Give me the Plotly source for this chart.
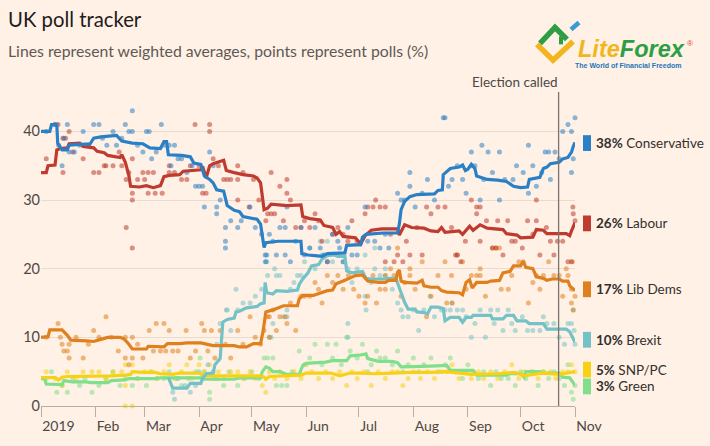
import plotly.graph_objects as go
import pandas as pd

# ---------------- DATA (days since 2019-01-01, value %) ----------------
con_line = [(0,40),(5,40),(6,41),(9,41),(9.5,38.3),(12,37.3),(15,37.3),(16,38),(28,38.2),(30,39),(34,39.2),(40,39.4),(43,39.4),(46,38.6),(48,38.5),(52,38.3),(58,38.2),(62,37.6),(68,37.5),(70,38.5),(71.5,38.5),(72.5,36.6),(80,36.5),(85,36.3),(87,35.4),(91,35.2),(93,33.5),(96,33),(98,32.5),(100,31.5),(104,31.3),(106,29.2),(110,28.5),(113,28.3),(115,27.6),(120,27.4),(123,27.2),(125,26.5),(126,25),(127,23.1),(128,23.8),(135,24),(140,24),(148,24),(148.5,22.2),(152,22.0),(156,21.9),(160,21.8),(163,22.2),(168,22.3),(173,22.3),(174,23.4),(182,23.5),(183,24.6),(185,25.0),(195,25.2),(203,25.2),(204,26.5),(205,28.6),(207,29.8),(210,30.5),(214,30.8),(224,30.9),(226,31.4),(228.5,31.5),(229,33.7),(231,34.2),(233,34.6),(238,34.8),(240,35.1),(241.6,34.3),(243,34.5),(245,35.2),(247,34.6),(248,33.5),(251,33.3),(254,33.0),(260,32.9),(265,32.7),(269,32.0),(273,31.8),(277,31.9),(278,33.0),(284,33.3),(286,34.6),(288,34.8),(290,35.3),(295,35.5),(297,36.0),(300,36.2),(302,37.0),(303,37.8),(304,38.4)]

lab_line = [(0,34),(3,34),(4,35),(8,35.1),(9,37.3),(11,37.5),(15,37.6),(16,38.2),(22,38.3),(24,37.8),(30,37.6),(32,37.1),(36,36.9),(38,36.5),(45,36.2),(46,36.6),(48,35.5),(50,33.6),(51,32),(56,31.9),(60,32.1),(64,31.8),(68,32.1),(70,33.4),(73,33.6),(79,33.7),(81,34.2),(91,34.4),(92,34.9),(94,33.2),(96,35.0),(98,35.3),(104,35.8),(105.5,34.3),(110,34.0),(115,33.7),(121,33.5),(123,33.2),(125,32.5),(126,30),(127,28.6),(129,28.8),(131,29.4),(140,29.2),(148,29.3),(149,27.6),(153,27.3),(159,27.1),(161,26.3),(166,26.0),(168,25.0),(170,25.4),(172,24.7),(179,24.5),(182,23.6),(184.5,24.8),(188,25.6),(194,25.8),(203,25.8),(204,24.9),(207,26.4),(211,26.0),(218,25.9),(222,25.5),(226,25.4),(228,26.0),(230,25.3),(238,25.5),(240,25.0),(244,26.2),(246,25.6),(250,26.4),(254,25.9),(263,25.7),(265,25.1),(271,24.9),(273,24.5),(280,24.6),(282,25.7),(286,25.6),(288,25.1),(299,25.1),(301,24.8),(302,25.5),(304,26.7)]

ld_line = [(0,10),(4,10.1),(5,11.1),(12,11.1),(15,10.3),(17,9.6),(26,9.5),(30,9.4),(34,9.7),(38,10.0),(45,10.0),(47,9.8),(49,9.3),(52,8.3),(60,8.3),(61,8.7),(70,8.6),(72,9.1),(79,9.1),(83,9.2),(91,9.2),(94,9.0),(98,8.8),(110,8.8),(113,8.6),(117,8.6),(121,9.1),(125,9.1),(126.5,11),(128,13.7),(132,14.0),(138,14.6),(146,14.6),(147,15.6),(149,16.1),(155,16.1),(159,16.5),(163,16.8),(166,16.9),(168,17.8),(172,18.2),(175,18.5),(179,19.0),(183,19.1),(184,18.8),(186,18.2),(192,18.0),(196,18.0),(198,18.3),(202,18.3),(203,19.5),(204,19.8),(205,18.2),(207,18.0),(214,17.9),(217,18.3),(218,17.5),(222,17.3),(226,17.3),(228,16.8),(231,16.6),(238,16.5),(240,16.2),(242,18.0),(244,18.4),(245.5,17.2),(248,18.0),(254,18.0),(256,18.2),(261,18.3),(263,19.4),(267,19.6),(269,20.4),(273,20.4),(274.5,21.1),(276,20.2),(280,20.0),(282,18.8),(286,18.6),(288,18.3),(291,18.5),(295,18.5),(297,18.2),(300,18.2),(301,17.5),(303,17.0),(304,16.8)]

brx_line = [(72.5,4.15),(74,3.0),(75,2.6),(83,2.6),(85,3.3),(91,3.3),(92,4.0),(94,4.7),(98,4.8),(99,6.0),(102,6.9),(103.5,12.2),(106,12.6),(110,12.8),(111,13.7),(113,13.8),(117,14.3),(123,14.5),(125,14.9),(127,15.0),(127.6,18.0),(128.5,16.5),(132,16.3),(134,16.8),(140,16.7),(146,16.9),(147,17.7),(149,18.5),(151,19.1),(152,19.4),(154,20.4),(158,20.6),(160,21.4),(163,21.9),(167,22.0),(169,21.8),(173,21.8),(174,19.7),(177,19.4),(180,19.5),(183,19.6),(185,18.6),(188,18.5),(196,18.5),(198,18.6),(202,18.6),(203,17.9),(205,16.6),(207,15.1),(209,14.1),(213,14.1),(214,13.7),(218,13.6),(220,13.4),(222,14.4),(226,14.4),(229,14.2),(230,12.4),(233,12.9),(238,12.9),(240,12.2),(242,12.9),(245,12.9),(246,13.2),(256,13.2),(257,12.7),(263,12.7),(265,13.2),(269,13.2),(271,12.4),(276,12.4),(278,12.0),(286,12.0),(288,11.2),(299,11.2),(301,10.8),(303,9.8),(304,9.3)]

snp_line = [(0,4.15),(8,4.15),(10,3.8),(12,4.2),(15,4.3),(30,4.3),(40,4.4),(48,4.5),(51,4.6),(52,5.0),(58,4.9),(65,4.9),(68,4.7),(75,4.6),(79,4.8),(90,4.8),(93,4.4),(110,4.4),(125,4.4),(127,4.2),(128,3.9),(130,4.3),(148,4.5),(151,4.8),(165,4.8),(170,4.4),(176,4.8),(182,4.8),(190,4.7),(200,4.8),(210,4.9),(222,4.9),(230,5.0),(245,4.6),(260,4.7),(270,4.9),(275,4.4),(285,4.8),(295,4.6),(304,5.0)]

grn_line = [(0,4.0),(2,4.0),(3,3.2),(12,3.1),(13,3.7),(17,3.6),(18,3.5),(26,3.5),(28,3.4),(38,3.4),(40,3.7),(48,3.8),(50,4.0),(65,4.0),(68,4.1),(91,4.1),(93,3.9),(110,3.9),(113,4.1),(125,4.1),(126,5.0),(128,5.7),(130,5.5),(132,5.0),(136,5.0),(140,4.6),(147,4.6),(149,5.9),(151,6.2),(162,6.4),(166,6.6),(174,6.6),(176,7.3),(181,7.4),(185,7.6),(186,6.9),(192,6.5),(200,6.5),(203,6.3),(205,5.7),(218,5.7),(222,5.8),(231,5.9),(233,5.2),(246,5.2),(248,4.5),(265,4.5),(267,4.7),(273,4.7),(275,4.2),(276,5.0),(284,5.0),(286,4.8),(295,4.8),(297,4.2),(301,4.1),(304,3.0)]

con_polls = [(3,40),(8,41),(10,38),(12,35),(13,39),(15,41),(16,37),(19,37),(22,38),(24,40),(27,38),(30,41),(33,41),(35,39),(37.5,38),(41,40),(43,38),(46,39),(48,41),(50,40),(52,43),(52,40),(55,38),(58,37),(60,40),(61.6,40),(63,36),(65.6,37),(68.5,41),(70,38),(73,38),(74,35),(76,38),(78,36),(80,36),(83,34),(86,35),(88,32),(90,32),(92,32),(93,29),(96,37),(98,35),(100,29),(100,28),(102,30),(105,26),(105,24),(105,23),(108,27),(112,26),(114,27),(119,29),(122,26),(125.6,25),(127.6,22),(128.5,22),(128,21),(130,25),(132,24),(134,22),(136,26),(139,22),(139,26),(140,29),(142,21),(145,24),(148,26),(150,22),(153,23),(156,26),(159,23),(161,22),(163,21),(166,25),(169,24),(170,23),(172,21),(174.7,26),(177,22),(180,22),(184.5,29),(186,24),(190,24),(193,23),(196,25),(198,23),(203,31),(205,30),(207,30),(210,34),(210,32),(213,29),(217,31),(220,33),(224,30),(229,42),(230,42),(232,32),(234,33),(237,35),(240,33),(242,31),(245,37),(245,35),(247,35),(250,30),(251,38),(252,33),(254.5,37),(257,34),(261,37),(261,30),(264,33),(268.7,33),(270.7,35),(274.5,34),(277.5,38),(277.5,31),(280,35),(282,32),(285,34),(287,37),(289,37),(290,33),(292.6,37),(295,36),(297,40),(300,41),(302,34),(303,36),(304,42),(302,40)]

lab_polls = [(3,36),(8,41),(9.7,41),(12.5,39),(14,39),(16,40),(12.5,34),(18,37),(24,36),(27,38),(30,34),(33,34),(36,35),(37,35),(41,35),(44.5,37),(46,35),(48.5,33),(48.5,26),(50,34),(52,23),(52,30),(52,31),(52,36),(55,33),(58,34),(61,34),(64,34),(59,33),(61,31),(65,31),(69,31),(73,35),(73,34),(76,34),(80,33),(83,33),(85,35),(87.7,41),(90,35),(92,31),(94,31),(96,41),(96,40),(98,36),(101,35),(104,33),(106,33),(108,33),(112,35),(112,33),(112,30),(115,34),(118.5,29),(121,33),(124,30),(128,27),(129,28),(131,34),(131,28),(133,28),(136,32),(138,27),(140,33),(140,31),(142,30),(145,26),(148,26),(150,27),(153,26),(156,28),(158,27),(160,24),(163,21),(166,25),(169,26),(172,25),(174.7,24),(177,27),(180,24),(184.5,28),(186,29),(189,29),(190.5,30),(193,29),(196,29),(196,21),(199,25),(201,21),(203,22),(206,21),(208,24),(210,22),(214,26),(217,22),(219.5,29),(222,28),(226,29),(230,29),(233.7,26),(236,22),(237,22),(239,21),(241.6,24),(245,30),(248,29),(248,28),(250,29),(250,24),(253.6,27),(257,23),(259,23),(260,27),(263,22),(265.7,27),(268,24),(270,24),(274,23),(277,27),(280,25),(282,27),(282,30),(284,22),(287.7,26),(290,24),(292,22),(294,24),(297,24),(300,21),(302,21),(302.8,29),(304,27),(303,28)]

ld_polls = [(3,10),(9.7,12),(11,10),(12,9),(13,8),(15,8),(16,9),(16,7),(20,10),(24,7),(27,9),(30,11),(33,10),(37,13),(40,10),(44,8),(48,10),(48,7),(50,6),(52,10),(52,7),(55,9),(58,7),(61.6,11),(64,8),(65.6,12),(68,8),(70,12),(71,8),(73,11),(75,8),(78,8),(82.6,11),(85,7),(88,8),(91.5,12),(93,11),(95,8),(97,11),(99,7),(102,11),(105,9),(108,7),(112,11),(115,9),(119,13),(122,10),(125,9),(127,11),(129,13),(130,13),(130,10),(132,14),(134,11),(136,13),(139,13),(140,12),(142,15),(145,11),(148,16),(150,16),(153,16),(156,18),(158,17),(160,15),(163,19),(166,18),(169,19),(172,17),(175,19),(178,17),(181,16),(184.5,15),(186,16),(189,19),(191,15),(193,17),(196,19),(196,17),(199,20),(201,19),(203,23),(205,16),(207,18),(210,20),(210,19),(213,17),(217,21),(219.5,13),(222,16),(226,19),(230,21),(231,15),(233.7,19),(234,15),(237,22),(240,21),(242,17),(245,19),(248,19),(250,20),(250,19),(253,16),(257,23),(259,23),(261,23),(262,17),(266,17),(268,19),(272,21),(274.5,21),(277.5,15),(280,18),(282,19),(284,17),(286,19),(289,21),(292,19),(295,19),(297,16),(299,20),(300,19),(302,17),(302.5,21),(303,14),(304,16),(302,15)]

brx_polls = [(75,2),(76,1),(78,4),(82,3),(85,2),(88,3),(90,5),(92,4),(95,6),(98,5),(100,9),(102,12),(105.5,14),(106,14),(108,11),(111,17),(112,14),(115,15),(119,15),(122,16),(125.6,17),(127.6,21),(128.5,21),(129,19),(130,10),(131,10),(132,12),(133,20),(134,19),(136,19),(138,13),(140,14),(140,13),(142,17),(144,18),(146,19),(148,19),(150,21),(153,23),(156,20),(159,24),(160,22),(163,24),(166,21),(169,22),(172,21),(174.7,20),(174.7,12),(174.7,10),(177,18),(180,20),(184.5,22),(184.5,16),(185,14),(188,18),(190,23),(190,20),(193,19),(196,20),(196,19),(200,17),(203,15),(205,14),(206,13),(209,13),(212,14),(215,11),(218,14),(221.5,16),(224,13),(228,14),(230,14),(233,14),(234,15),(237,14),(240,14),(242,13),(245,10),(247,12),(250,14),(253,10),(256,14),(258,12),(260,14),(263,11),(266,14),(268,12),(270,11),(274,13),(277,11),(280,11),(284,11),(286,13),(288,12),(292,12),(295,10),(298,9),(300,12),(302,12),(303,14),(304,9),(303.5,11)]

snp_polls = [(3,5),(8,4),(12,3),(15,5),(20,4),(24,5),(29,5),(33,5),(37,4),(41,5),(46,5),(48,6),(48,3),(48,0),(52,6),(52,0),(55,4),(59,5),(62,5),(66,4),(70,5),(73,6),(76,4),(80,5),(83,6),(86,4),(90,6),(93,5),(96,6),(98,4),(101,5),(104,4),(108,5),(112,5),(115,4),(119,5),(122,4),(126,3),(128,2),(130,5),(133,4),(136,5),(140,4),(144,5),(148,4),(151,6),(154,5),(158,4),(162,5),(166,4),(170,5),(174,3),(177,5),(180,4),(184,5),(188,3),(192,5),(196,4),(200,5),(203,5),(206,3),(209,4),(212,5),(216,4),(220,5),(224,4),(228,5),(231,5),(234,6),(238,4),(242,5),(245,4),(249,5),(252,4),(256,5),(260,4),(264,5),(268,6),(272,4),(275,5),(279,5),(283,4),(286,5),(290,5),(293,4),(297,5),(300,5),(302,6),(304,5)]

grn_polls = [(3,4),(6,5),(9,2),(12,3),(15,2),(18,4),(22,3),(25,4),(29,2),(33,3),(37,4),(41,5),(45,3),(48,4),(52,3),(55,4),(60,3),(63,5),(66,4),(70,4),(73,5),(77,4),(80,3),(84,4),(88,5),(90.6,7),(93,5),(96,2),(96,1),(100,4),(104,3),(107,5),(112,3),(116,4),(120,5),(124,4),(127,7),(129,7),(132,7),(134,3),(137,3),(140,3),(143,5),(147,8),(150,6),(153,7),(156,9),(160,6),(163,9),(166,7),(168,9),(171,6),(174,10),(176,8),(180,7),(183,9),(186,5),(188,6),(191,8),(193,7),(196,7),(200,6),(203,8),(206,5),(209,6),(212,7),(215,5),(218,6),(222,7),(226,5),(230,6),(233,7),(236,5),(240,4),(243,6),(246,5),(249,4),(252,5),(256,3),(259,5),(262,4),(266,4),(270,3),(273,5),(276,4),(280,5),(283,3),(286,5),(289,4),(292,5),(295,4),(298,3),(300,6),(302,2),(304,3),(303,1)]

parties = ["Conservative", "Labour", "Lib Dems", "Brexit", "SNP/PC", "Green"]
latest_pct = [38, 26, 17, 10, 5, 3]

month_ticks = ["2019-01-01","2019-02-01","2019-03-01","2019-04-01","2019-05-01","2019-06-01",
               "2019-07-01","2019-08-01","2019-09-01","2019-10-01","2019-11-01"]
month_labels = ["2019","Feb","Mar","Apr","May","Jun","Jul","Aug","Sep","Oct","Nov"]
y_ticks = [0, 10, 20, 30, 40]
election_called = "2019-10-22 16:00"

# ---------------- STYLE ----------------
colors = {"Conservative": "#2a80c6", "Labour": "#bf3a2f", "Lib Dems": "#e07f1d",
          "Brexit": "#72c2c8", "SNP/PC": "#f6d116", "Green": "#80df8b"}
lines = {"Conservative": con_line, "Labour": lab_line, "Lib Dems": ld_line,
         "Brexit": brx_line, "SNP/PC": snp_line, "Green": grn_line}
polls = {"Conservative": con_polls, "Labour": lab_polls, "Lib Dems": ld_polls,
         "Brexit": brx_polls, "SNP/PC": snp_polls, "Green": grn_polls}
label_y = {"Conservative": 38.3, "Labour": 26.6, "Lib Dems": 17.0,
           "Brexit": 9.65, "SNP/PC": 5.3, "Green": 2.85}

BASE = pd.Timestamp("2019-01-01")
def to_dates(days):
    return [BASE + pd.Timedelta(days=float(d)) for d in days]

L, R, T, B = 41, 135, 100, 38
W, H = 710, 446
PW, PH = W - L - R, H - T - B
def px_x(p): return (p - L) / PW
def px_y(p): return (H - B - p) / PH

FONT = "Lato"
TXT = "#33302e"

fig = go.Figure()

# poll points
for p in ["Green", "SNP/PC", "Brexit", "Lib Dems", "Labour", "Conservative"]:
    d = [a for a, _ in polls[p]]
    v = [b for _, b in polls[p]]
    fig.add_trace(go.Scatter(x=to_dates(d), y=v, mode="markers",
                             marker=dict(size=5, color=colors[p], opacity=0.55, line=dict(width=0)),
                             hoverinfo="skip", showlegend=False, cliponaxis=False))
# average lines
for p in ["Green", "SNP/PC", "Brexit", "Lib Dems", "Labour", "Conservative"]:
    d = [a for a, _ in lines[p]]
    v = [b for _, b in lines[p]]
    fig.add_trace(go.Scatter(x=to_dates(d), y=v, mode="lines",
                             line=dict(color=colors[p], width=3.2),
                             showlegend=False, name=p, cliponaxis=False))

shapes = []
annotations = []

# right-hand labels
for p, pct in zip(parties, latest_pct):
    yc = label_y[p]
    shapes.append(dict(type="rect", xref="paper", yref="y", x0=px_x(583), x1=px_x(591),
                       y0=yc - 1.15, y1=yc + 1.15, fillcolor=colors[p], line=dict(width=0)))
    annotations.append(dict(xref="paper", yref="y", x=px_x(594), y=yc, xanchor="left",
                            yanchor="middle", showarrow=False,
                            text=f"<b>{pct}%</b> {p}", font=dict(family=FONT, size=13.5, color=TXT)))

# election called
shapes.append(dict(type="line", xref="x", yref="paper", x0=election_called, x1=election_called,
                   y0=0, y1=px_y(92), line=dict(color="#7b746f", width=1.3)))
annotations.append(dict(xref="x", yref="paper", x=election_called, y=px_y(82), xanchor="right",
                        yanchor="middle", xshift=1, showarrow=False, text="Election called",
                        font=dict(family=FONT, size=13.5, color="#4d4845")))

# title & subtitle
annotations.append(dict(xref="paper", yref="paper", x=px_x(6), y=px_y(18), xanchor="left",
                        yanchor="middle", showarrow=False, text="UK poll tracker",
                        font=dict(family=FONT, size=20.3, color="#1f1c1b")))
annotations.append(dict(xref="paper", yref="paper", x=px_x(6), y=px_y(50), xanchor="left",
                        yanchor="middle", showarrow=False,
                        text="Lines represent weighted averages, points represent polls (%)",
                        font=dict(family=FONT, size=15.8, color="#5f5955")))

# logo
def path(pts):
    s = "M " + " L ".join(f"{px_x(a):.5f},{px_y(b):.5f}" for a, b in pts)
    return s
shapes.append(dict(type="path", xref="paper", yref="paper", path=path([(537, 44), (553, 60), (573, 41)]),
                   line=dict(color="#f2b51d", width=5.5)))
shapes.append(dict(type="path", xref="paper", yref="paper", path=path([(540, 43), (555, 27), (567, 39)]),
                   line=dict(color="#2e9e45", width=5.5)))
shapes.append(dict(type="path", xref="paper", yref="paper", path=path([(561, 36), (561, 44)]),
                   line=dict(color="#2e9e45", width=4)))
shapes.append(dict(type="path", xref="paper", yref="paper", path=path([(571, 29), (579, 22)]),
                   line=dict(color="#3a9ad9", width=4.5)))
annotations.append(dict(xref="paper", yref="paper", x=px_x(576), y=px_y(49), xanchor="left",
                        yanchor="middle", showarrow=False,
                        text="<b><i><span style='color:#f2b51d'>Lite</span><span style='color:#2e9e45'>Forex</span></i></b>",
                        font=dict(family="Liberation Sans", size=23.5)))
annotations.append(dict(xref="paper", yref="paper", x=px_x(685), y=px_y(43), xanchor="left",
                        yanchor="middle", showarrow=False, text="®",
                        font=dict(family="Liberation Sans", size=8, color="#d9443a")))
annotations.append(dict(xref="paper", yref="paper", x=px_x(628), y=px_y(65.5), xanchor="center",
                        yanchor="middle", showarrow=False, text="<b>The World of Financial Freedom</b>",
                        font=dict(family="Liberation Sans", size=7, color="#1f74b9")))

fig.update_layout(
    width=W, height=H, margin=dict(l=L, r=R, t=T, b=B, pad=0),
    paper_bgcolor="#fff1e5", plot_bgcolor="#fff1e5",
    showlegend=False, shapes=shapes, annotations=annotations,
    xaxis=dict(type="date", range=["2019-01-01", "2019-11-01"], tickvals=month_ticks,
               ticktext=month_labels, ticklabelposition="outside right", ticks="outside",
               ticklen=10, tickwidth=1.2, tickcolor="#b8aea6", showline=True, linecolor="#b8aea6",
               linewidth=1.3, showgrid=False, zeroline=False, ticklabelstandoff=7,
               tickfont=dict(family=FONT, size=14, color="#4d4845")),
    yaxis=dict(range=[0, PH / 6.91], tickvals=y_ticks, showgrid=True, gridcolor="#e8dbcf",
               gridwidth=1, zeroline=False, ticks="", showline=False,
               tickfont=dict(family=FONT, size=14.5, color="#4d4845")),
)

fig.write_html("out.html")
